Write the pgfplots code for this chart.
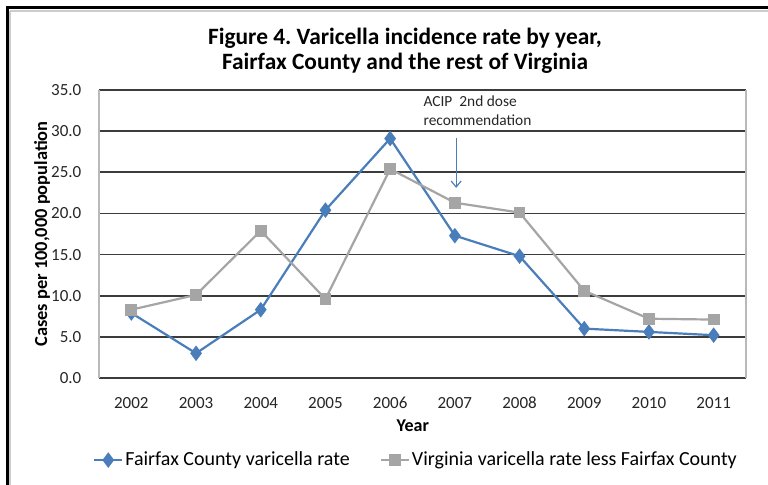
\documentclass[border=0pt]{standalone}
\usepackage{fontspec}
\setmainfont{Carlito}
\usepackage{pgfplots}
\pgfplotsset{compat=1.18}
\usetikzlibrary{arrows.meta}
\definecolor{ffxblue}{RGB}{74,126,187}
\definecolor{vagray}{RGB}{165,165,165}
\definecolor{gridgray}{RGB}{60,60,60}

\begin{document}
\frenchspacing
\begin{tikzpicture}
\useasboundingbox (0,0) rectangle (384pt,242.5pt);
\fill[white] (0,0) rectangle (384pt,242.5pt);
% outer frame (top and left edges only visible)
\draw[gray!40, line width=0.8pt] (5pt,237pt) -- (384pt,237pt);
\draw[gray!40, line width=0.8pt] (5pt,0) -- (5pt,237pt);
\draw[black, line width=1.5pt] (3.5pt,0) -- (3.5pt,238.7pt) -- (384pt,238.7pt);

\begin{axis}[
    at={(49.5pt,53.5pt)}, anchor=south west,
    scale only axis,
    width=323.5pt, height=144pt,
    xmin=-0.5, xmax=9.5,
    ymin=0, ymax=35,
    xtick={0,1,2,3,4,5,6,7,8,9},
    xticklabels={2002,2003,2004,2005,2006,2007,2008,2009,2010,2011},
    ytick={0,5,10,15,20,25,30,35},
    /pgf/number format/assume math mode=true,
    major tick length=0pt,
    ticklabel style={font=\fontsize{8.5}{10}\selectfont, text=black!85},
    yticklabel style={xshift=-5.3pt, /pgf/number format/.cd, fixed, fixed zerofill, precision=1},
    xticklabel style={yshift=-6pt},
    ymajorgrids,
    grid style={gridgray, line width=0.9pt},
    separate axis lines,
    x axis line style={gridgray, line width=0.9pt},
    y axis line style={gray!55, line width=0.7pt},
    title={Figure 4. Varicella incidence rate by year,\\Fairfax County and the rest of Virginia},
    title style={font=\bfseries\fontsize{11.7}{12.6}\selectfont, align=center, at={(0.473,1.094)}, anchor=center},
    xlabel={Year},
    xlabel style={font=\bfseries\fontsize{9}{11}\selectfont, at={(0.485,-0.167)}, anchor=center},
    ylabel={Cases per 100,000 population},
    ylabel style={font=\bfseries\fontsize{9.2}{11}\selectfont, at={(-0.088,0.5)}, anchor=center},
    legend columns=2,
    legend style={at={(0.49,-0.285)}, anchor=center, draw=none, fill=none,
        font=\fontsize{10}{12}\selectfont,
        nodes={inner sep=1pt},
        /tikz/every even column/.append style={column sep=14pt}},
    legend image code/.code={\draw[mark repeat=2, mark phase=2] plot coordinates {(0pt,0pt) (7pt,0pt) (14pt,0pt)};},
]
\addplot[ffxblue, line width=1.1pt, mark=diamond*, mark size=3pt, mark options={fill=ffxblue, draw=ffxblue}] coordinates {
    (0, 7.9) (1, 3.0) (2, 8.3) (3, 20.4) (4, 29.1)
    (5, 17.3) (6, 14.8) (7, 6.0) (8, 5.6) (9, 5.2)
};
\addlegendentry{Fairfax County varicella rate}

\addplot[vagray, line width=1.1pt, mark=square*, mark size=2.4pt, mark options={fill=vagray, draw=vagray}] coordinates {
    (0, 8.3) (1, 10.1) (2, 17.9) (3, 9.6) (4, 25.4)
    (5, 21.3) (6, 20.1) (7, 10.6) (8, 7.2) (9, 7.1)
};
\addlegendentry{Virginia varicella rate less Fairfax County}

% ACIP annotation
\node[font=\fontsize{7.7}{9.5}\selectfont, align=left, inner sep=0pt, anchor=center, text=black!85]
    at (axis cs:5.35,32.45) {ACIP\ \ 2nd dose\\recommendation};
\draw[ffxblue, line width=0.6pt, -{Straight Barb[length=3pt, width=5pt]}]
    (axis cs:5.02,29.2) -- (axis cs:5.02,23.1);
\end{axis}
\end{tikzpicture}
\end{document}
